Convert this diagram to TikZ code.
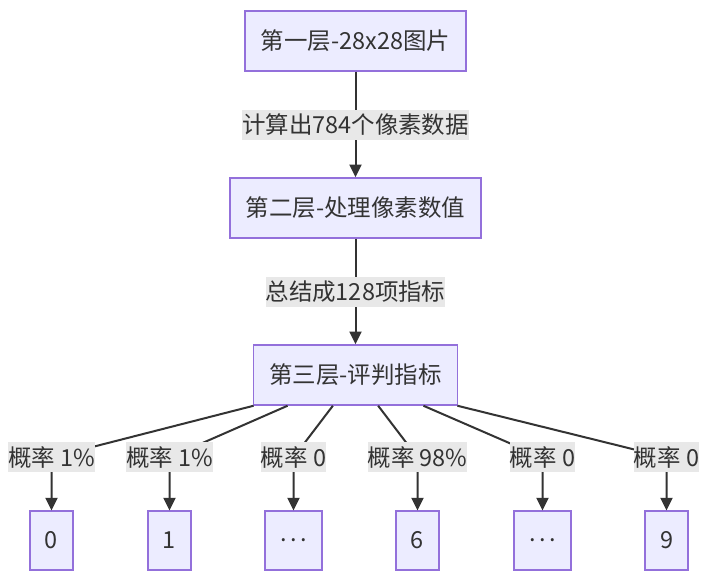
\documentclass[tikz,border=0pt]{standalone}
\usepackage{fontspec}
\setmainfont{Noto Sans CJK SC}
\usetikzlibrary{arrows.meta,calc,positioning}

\definecolor{kutija}{HTML}{ECECFF}
\definecolor{rub}{HTML}{9370DB}
\definecolor{crta}{HTML}{333333}
\definecolor{podloga}{HTML}{E8E8E8}

\tikzset{
  sloj/.style={draw=rub, fill=kutija, line width=1.1pt, text=crta,
    minimum height=45pt, inner xsep=12pt, font=\fontsize{17.6pt}{20pt}\selectfont},
  znamenka/.style={sloj, minimum width=32.25pt, minimum height=44pt, inner xsep=0pt},
  opis/.style={fill=podloga, text=crta, inner xsep=0pt, inner ysep=0pt,
    minimum height=22.5pt, font=\fontsize{17.6pt}{20pt}\selectfont},
  strelica/.style={draw=crta, line width=1.5pt, -{Triangle[length=9.5pt,width=9pt]}}
}
\newcommand{\tockice}{.\kern2.5pt.\kern2.5pt.}

\begin{document}
\begin{tikzpicture}[x=0.75pt,y=-0.75pt]
\useasboundingbox (0,0) rectangle (709,582);

% slojevi
\node[sloj] (sloj1) at (355.5,41) {第一层-28x28图片};
\node[sloj] (sloj2) at (355.5,208) {第二层-处理像素数值};
\node[sloj] (sloj3) at (355.5,375) {第三层-评判指标};

% znamenke
\node[znamenka] (z0) at (51.5,540.5) {0};
\node[znamenka] (z1) at (169.5,540.5) {1};
\node[znamenka, minimum width=42.75pt] (zt1) at (293.5,540.5) {\tockice};
\node[znamenka] (z6) at (417.5,540.5) {6};
\node[znamenka, minimum width=42.75pt] (zt2) at (542.5,540.5) {\tockice};
\node[znamenka] (z9) at (666.5,540.5) {9};

% veze
\draw[strelica] (sloj1) -- node[opis] {计算出784个像素数据} (sloj2);
\draw[strelica] (sloj2) -- node[opis] {总结成128项指标} (sloj3);

\draw[strelica] ($(sloj3.south west)!0.005!(sloj3.south east)$) -- ($(z0.north)+(0,-53)$)
  node[opis] {概率 1\%} -- (z0);
\draw[strelica] ($(sloj3.south west)!0.17!(sloj3.south east)$) -- ($(z1.north)+(0,-53)$)
  node[opis] {概率 1\%} -- (z1);
\draw[strelica] ($(sloj3.south west)!0.39!(sloj3.south east)$) -- ($(zt1.north)+(0,-53)$)
  node[opis] {概率 0} -- (zt1);
\draw[strelica] ($(sloj3.south west)!0.61!(sloj3.south east)$) -- ($(z6.north)+(0,-53)$)
  node[opis] {概率 98\%} -- (z6);
\draw[strelica] ($(sloj3.south west)!0.83!(sloj3.south east)$) -- ($(zt2.north)+(0,-53)$)
  node[opis] {概率 0} -- (zt2);
\draw[strelica] ($(sloj3.south west)!0.995!(sloj3.south east)$) -- ($(z9.north)+(0,-53)$)
  node[opis] {概率 0} -- (z9);
\end{tikzpicture}
\end{document}
